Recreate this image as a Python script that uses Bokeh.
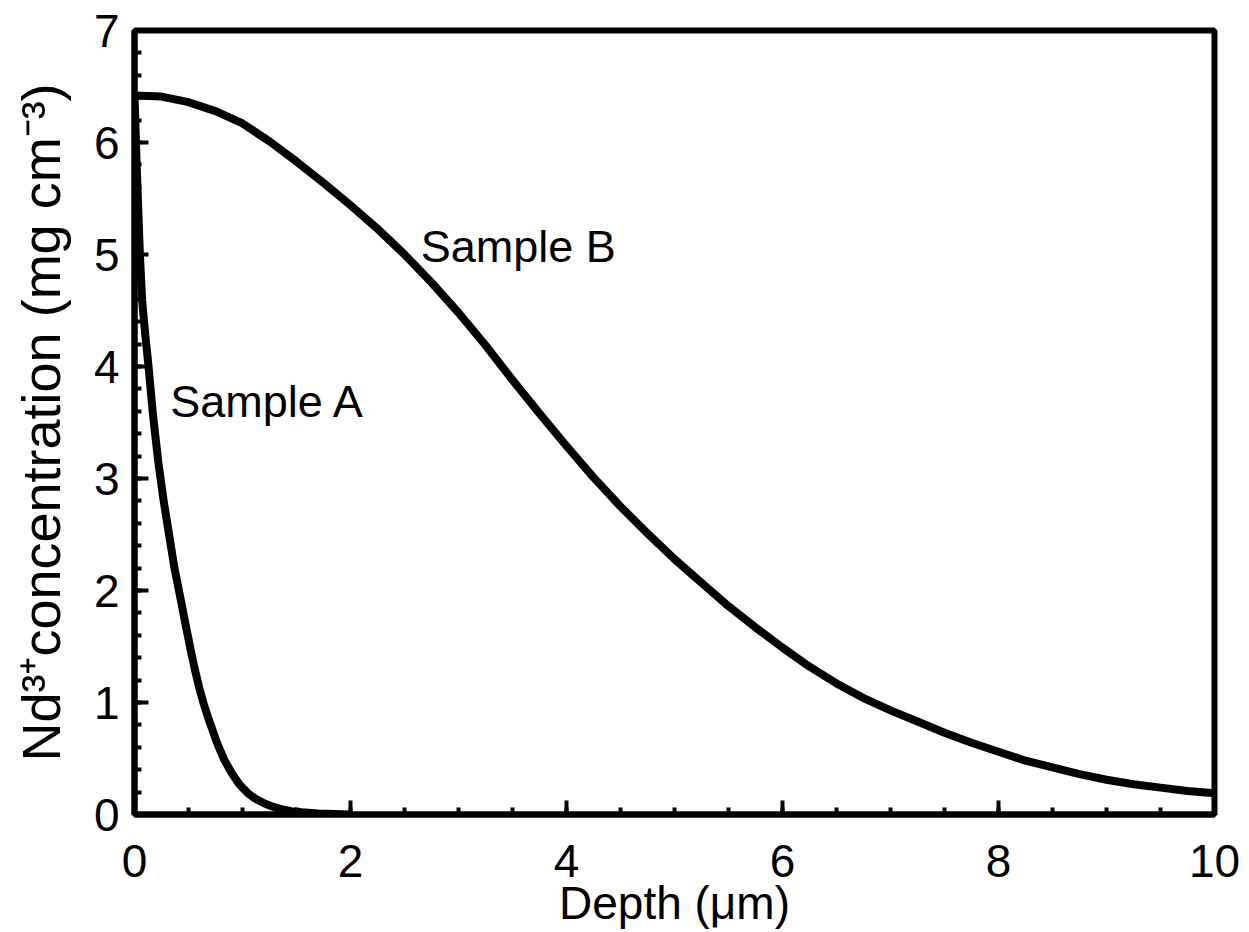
from bokeh.plotting import figure
from bokeh.models import Range1d, FixedTicker
from bokeh.core.properties import value
from bokeh.embed import file_html
from bokeh.resources import INLINE

# Nd3+ depth profiles (depth in micrometres, concentration in mg cm^-3)
depth_a = [0.0, 0.02, 0.05, 0.07, 0.10, 0.13, 0.17, 0.22, 0.27, 0.32, 0.37, 0.43,
           0.47, 0.52, 0.56, 0.60, 0.64, 0.68, 0.72, 0.76, 0.83, 0.90, 0.97,
           1.05, 1.12, 1.20, 1.28, 1.35, 1.45, 1.55, 1.70, 2.00]
conc_a = [6.42, 5.80, 5.00, 4.60, 4.28, 4.00, 3.58, 3.15, 2.80, 2.50, 2.20, 1.91,
          1.71, 1.47, 1.29, 1.13, 0.99, 0.87, 0.76, 0.65, 0.49, 0.37, 0.27,
          0.19, 0.14, 0.10, 0.07, 0.05, 0.03, 0.02, 0.01, 0.00]

depth_b = [0.0, 0.25, 0.5, 0.75, 1.0, 1.25, 1.5, 1.75, 2.0, 2.25, 2.5, 2.75,
           3.0, 3.25, 3.5, 3.75, 4.0, 4.25, 4.5, 4.75, 5.0, 5.25, 5.5, 5.75,
           6.0, 6.25, 6.5, 6.75, 7.0, 7.25, 7.5, 7.75, 8.0, 8.25, 8.5, 8.75,
           9.0, 9.25, 9.5, 9.75, 10.0]
conc_b = [6.42, 6.41, 6.36, 6.28, 6.17, 6.01, 5.83, 5.64, 5.44, 5.23, 5.00, 4.75,
          4.48, 4.19, 3.88, 3.58, 3.29, 3.01, 2.75, 2.51, 2.28, 2.07, 1.86, 1.67,
          1.49, 1.32, 1.17, 1.04, 0.93, 0.83, 0.73, 0.64, 0.56, 0.48, 0.42, 0.36,
          0.31, 0.27, 0.24, 0.21, 0.19]

x_ticks = [0, 2, 4, 6, 8, 10]
y_ticks = [0, 1, 2, 3, 4, 5, 6, 7]

FONT = "Liberation Sans"

p = figure(width=1249, height=932, output_backend="svg", toolbar_location=None,
           x_range=Range1d(0, 10), y_range=Range1d(0, 7),
           min_border_left=134, min_border_right=35,
           min_border_top=30, min_border_bottom=118)

p.background_fill_color = "white"
p.border_fill_color = "white"
p.outline_line_color = "black"
p.outline_line_width = 6
p.xgrid.visible = False
p.ygrid.visible = False

p.xaxis.ticker = FixedTicker(ticks=x_ticks,
                             minor_ticks=[i * 0.5 for i in range(21)])
p.yaxis.ticker = FixedTicker(ticks=y_ticks,
                             minor_ticks=[i * 0.2 for i in range(36)])

for ax in (p.xaxis, p.yaxis):
    ax.axis_line_width = 6
    ax.axis_line_color = "black"
    ax.major_tick_in = 14
    ax.major_tick_out = 0
    ax.minor_tick_in = 7
    ax.minor_tick_out = 0
    ax.major_tick_line_width = 4
    ax.minor_tick_line_width = 4
    ax.major_tick_line_color = "black"
    ax.minor_tick_line_color = "black"
    ax.major_label_text_font = FONT
    ax.major_label_text_font_size = "46px"
    ax.major_label_text_color = "black"
    ax.axis_label_text_font = FONT
    ax.axis_label_text_font_style = "normal"
    ax.axis_label_text_color = "black"

p.xaxis.axis_label = "Depth (\u03bcm)"
p.xaxis.axis_label_text_font_size = "46px"
p.xaxis.major_label_standoff = 30
p.xaxis.axis_label_standoff = -3
p.yaxis.axis_label = "Nd\u00b3\u207aconcentration (mg cm\u207b\u00b3)"
p.yaxis.axis_label_text_font_size = "54px"
p.yaxis.major_label_standoff = 15
p.yaxis.axis_label_standoff = 20

p.line(depth_a, conc_a, line_color="black", line_width=8, line_join="round")
p.line(depth_b, conc_b, line_color="black", line_width=8, line_join="round")

p.text(x=[2.65], y=[5.07], text=["Sample B"], text_font=value(FONT),
       text_font_size="45px", text_color="black", text_baseline="alphabetic")
p.text(x=[0.33], y=[3.69], text=["Sample A"], text_font=value(FONT),
       text_font_size="45px", text_color="black", text_baseline="alphabetic")

open("out.html", "w").write(file_html(p, INLINE))
